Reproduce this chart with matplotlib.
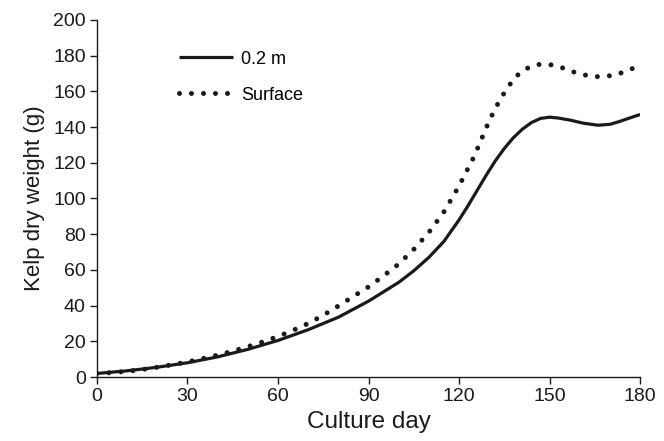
import matplotlib
matplotlib.use("Agg")
import matplotlib.pyplot as plt

# ================= DATA =================
day_02m = [0, 10, 20, 30, 40, 50, 60, 70, 80, 90, 100, 105, 110, 115, 120, 123,
           126, 129, 132, 135, 138, 141, 144, 147, 150, 153, 157, 161, 166, 170, 173, 177, 180]
kelp_02m = [2, 3.5, 5.5, 8, 11.3, 15.5, 20.5, 26.5, 33.5, 42.5, 53, 59.5, 67, 76, 88, 96,
            104.5, 113, 121, 128, 134, 138.8, 142.5, 144.8, 145.5, 145, 143.8, 142.2, 141, 141.5, 143, 145.3, 147]

day_surface = [0, 5, 10, 15, 20, 25, 30, 35, 40, 45, 50, 55, 60, 65, 70, 75, 80, 85, 90,
               95, 100, 105, 110, 115, 120, 125, 130, 133, 136, 139, 142, 146, 150,
               154, 158, 162, 166, 170, 174, 177, 180]
kelp_surface = [2, 2.5, 3.2, 4.2, 5.5, 6.9, 8.5, 10.3, 12.3, 14.5, 17, 19.7, 22.7, 26.2, 30,
                34.6, 39.8, 45.2, 50.5, 56.7, 63.3, 71.5, 81, 92.5, 107, 123.5, 143.5, 153.5,
                162, 168.5, 172.5, 175, 175, 173.3, 170.8, 169, 168.2, 168.7, 170.4, 172.5, 174]

x_ticks = [0, 30, 60, 90, 120, 150, 180]
y_ticks = list(range(0, 201, 20))
# =========================================

plt.rcParams["font.family"] = ["Liberation Sans", "DejaVu Sans"]

fig = plt.figure(figsize=(6.64, 4.41), dpi=100)
ax = fig.add_axes([0.146, 0.145, 0.818, 0.81])

ax.plot(day_02m, kelp_02m, color="#1a1a1a", lw=2.3, label="0.2 m", solid_capstyle="butt")
ax.plot(day_surface, kelp_surface, color="#1a1a1a", lw=3.6,
        linestyle=(0, (0.001, 2.4)), dash_capstyle="round", label="Surface")

ax.set_xlim(0, 180)
ax.set_ylim(0, 200)
ax.set_xticks(x_ticks)
ax.set_yticks(y_ticks)
ax.tick_params(direction="out", length=5, width=1, labelsize=14, colors="#1a1a1a", pad=3)

for s in ("top", "right"):
    ax.spines[s].set_visible(False)
for s in ("left", "bottom"):
    ax.spines[s].set_linewidth(1)
    ax.spines[s].set_color("#1a1a1a")

ax.set_xlabel("Culture day", fontsize=17.5, color="#1a1a1a", labelpad=4)
ax.set_ylabel("Kelp dry weight (g)", fontsize=16, color="#1a1a1a", labelpad=6)

ax.legend(loc="upper left", bbox_to_anchor=(0.137, 0.934), frameon=False,
          fontsize=13, handlelength=3.0, handletextpad=0.45, labelspacing=1.05,
          borderaxespad=0)

fig.savefig("out.png", dpi=100, facecolor="white")
